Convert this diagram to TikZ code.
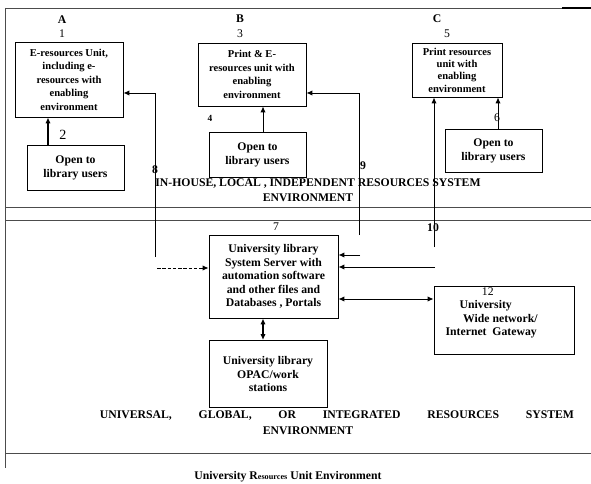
\documentclass[tikz,border=0pt]{standalone}
\usepackage{fontspec}
\setmainfont{Liberation Serif}
\usetikzlibrary{arrows.meta, positioning}
\tikzset{
	unit/.style   ={rectangle, draw=black, thick, align=center, inner sep=1pt, font=\fontsize{9}{11.5}\selectfont\bfseries},
	users/.style  ={rectangle, draw=black, thick, align=center, inner sep=1pt, font=\fontsize{10}{12}\selectfont\bfseries},
	server/.style ={rectangle, draw=black, thick, align=center, inner sep=1pt, font=\fontsize{10}{11.5}\selectfont\bfseries},
	num/.style    ={inner sep=0pt, font=\fontsize{10}{12}\selectfont},
	bnum/.style   ={inner sep=0pt, font=\fontsize{10}{12}\selectfont\bfseries},
	envtext/.style={inner sep=0pt, align=center, font=\fontsize{10}{12}\selectfont\bfseries},
	rule/.style   ={draw=black!70, line width=0.7pt},
	link/.style   ={-{Latex[length=5pt, width=4.5pt]}, thick},
	twoway/.style ={{Latex[length=5pt, width=4.5pt]}-{Latex[length=5pt, width=4.5pt]}, thick},
}
\begin{document}
\begin{tikzpicture}[x=0.03cm, y=-0.03cm]
\useasboundingbox (0,0) rectangle (591,484);
% frame and separators
\draw[rule] (5,8) -- (591,8);
\draw[line width=1.1pt] (562,8) -- (591,8);
\draw[rule] (5,8) -- (5,468);
\draw[rule] (5,207) -- (591,207);
\draw[rule] (5,220) -- (591,220);
\draw[rule] (5,453) -- (591,453);

% in-house units A, B, C
\node[unit, minimum width=3.24cm, minimum height=2.25cm] (eres) at (69,79.5) {E-resources Unit,\\ including e-\\ resources with\\ enabling\\ environment};
\node[users, minimum width=2.91cm, minimum height=1.35cm] (usersA) at (75.5,167.5) {Open to\\ library users};
\node[unit, minimum width=3.24cm, minimum height=1.89cm] (printe) at (252,74.5) {Print \& E-\\ resources unit with\\ enabling\\ environment};
\node[users, minimum width=2.91cm, minimum height=1.35cm] (usersB) at (257.5,154.5) {Open to\\ library users};
\node[unit, minimum width=2.7cm, minimum height=1.62cm, font=\fontsize{9}{10.5}\selectfont\bfseries] (print) at (457,70) {Print resources\\ unit with\\ enabling\\ environment};
\node[users, minimum width=2.91cm, minimum height=1.29cm] (usersC) at (493.5,150.5) {Open to\\ library users};

\node[bnum] (labA) at (62,20) {A};
\node[num] (n1) at (62,34) {1};
\node[num, font=\fontsize{12}{12}\selectfont] (n2) at (63,135) {2};
\node[bnum] (labB) at (240,19) {B};
\node[num] (n3) at (240,34) {3};
\node[bnum, font=\fontsize{8}{10}\selectfont\bfseries] (n4) at (210,118) {4};
\node[bnum] (labC) at (437,19) {C};
\node[num] (n5) at (447,34) {5};
\node[num] (n6) at (497,118) {6};

\node[envtext] (inhouse) at (318,184) {IN-HOUSE, LOCAL , INDEPENDENT RESOURCES SYSTEM};
\node[envtext] (inhouseenv) at (308,198) {ENVIRONMENT};

% university level
\node[server, minimum width=3.87cm, minimum height=2.49cm] (srv) at (273.5,276.5) {University library\\ System Server with\\ automation software\\ and other files and\\ Databases , Portals};
\node[server, minimum width=3.54cm, minimum height=2.01cm] (opac) at (268,374) {University library\\ OPAC/work\\ stations};
\node[rectangle, draw=black, thick, minimum width=4.2cm, minimum height=2.04cm] (net) at (504,320) {};
\node[server, draw=none, anchor=north west, align=left] (nettext) at (444,286) {\hspace*{31pt}{\mdseries 12}\\ \hspace*{12pt}University\\ \hspace*{15pt}Wide network/\\ Internet~~Gateway};
\node[num] (n7) at (276,227) {7};
\node[bnum] (n8) at (155,170) {8};
\node[bnum] (n9) at (363,166) {9};
\node[bnum] (n10) at (433,228) {10};

\node[envtext] (univ) at (337,416) {\makebox[14.22cm]{UNIVERSAL,\hfill GLOBAL,\hfill OR\hfill INTEGRATED\hfill RESOURCES\hfill SYSTEM}};
\node[envtext] (univenv) at (308,431) {ENVIRONMENT};
\node[envtext] (caption) at (288,477) {University R{\fontsize{7}{8}\selectfont esources} Unit Environment};

% connectors
\coordinate (xA) at (48,0);
\coordinate (xB) at (263,0);
\coordinate (xC) at (498,0);
\coordinate (k8) at (155,257);
\coordinate (c8) at (155,93);
\coordinate (d8) at (157,268);
\coordinate (k9) at (359,235);
\coordinate (c9) at (359,93);
\coordinate (e9) at (360,255);
\coordinate (k10) at (434,247);
\coordinate (e10) at (435,267);
\coordinate (yN) at (0,299);

\draw[link, line width=1.4pt] (usersA.north -| xA) -- (eres.south -| xA);
\draw[link] (usersB.north -| xB) -- (printe.south -| xB);
\draw[link] (usersC.north -| xC) -- (print.south -| xC);
\draw[link] (k8) -- (c8) -- (eres.east |- c8);
\draw[link, dash pattern=on 3pt off 1.5pt] (d8) -- (srv.west |- d8);
\draw[link] (k9) -- (c9) -- (printe.east |- c9);
\draw[link] (e9) -- (srv.east |- e9);
\draw[link] (k10) -- (print.south -| k10);
\draw[link] (e10) -- (srv.east |- e10);
\draw[twoway, line width=1.4pt] (srv.south -| xB) -- (opac.north -| xB);
\draw[twoway] (srv.east |- yN) -- (net.west |- yN);
\end{tikzpicture}
\end{document}
